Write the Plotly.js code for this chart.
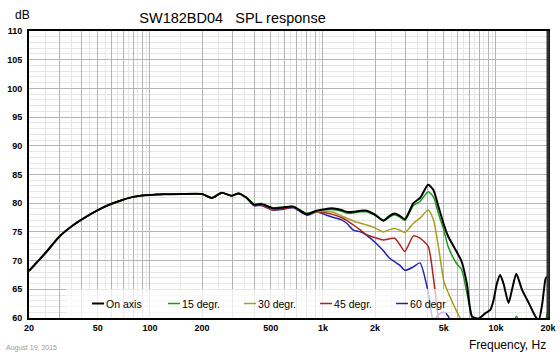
<!DOCTYPE html>
<html><head><meta charset="utf-8">
<script src="https://cdn.plot.ly/plotly-3.0.1.min.js"></script>
<style>html,body{margin:0;padding:0;background:#fff}#chart{width:559px;height:356px}</style>
</head><body><div id="chart"></div>
<script>
// Frequencies (Hz) shared by all series
const freqs = [20,25,30,35,40,50,60,70,80,90,100,120,150,200,228,260,296,325,360,400,440,516,570,674,806,920,1050,1124,1280,1372,1500,1650,1790,2000,2236,2430,2600,2780,2980,3334,3640,4060,4352,4654,5000,5300,5920,6340,6790,7270,7930,8660,9280,9690,10130,10580,11060,11830,12380,13120,14160,15500,16970,17700,18550,19400,20000];

const onAxis = [68.2,71.4,74.2,75.9,77.1,78.8,79.9,80.6,81.1,81.35,81.45,81.55,81.6,81.6,80.9,81.8,81.3,81.7,81.0,79.7,79.85,79.1,79.2,79.4,78.1,78.7,79.0,79.1,78.8,78.5,78.5,78.7,78.7,78.0,77.0,77.8,78.2,77.8,77.2,80.0,80.9,83.2,82.3,79.4,76.3,74.2,71.6,69.8,66.0,60.3,59.9,60.8,61.4,63.1,66.0,67.5,66.0,62.6,64.9,67.7,64.9,62.6,60.2,59.7,62.6,66.9,67.3];

const deg15 = [68.2,71.4,74.2,75.9,77.1,78.8,79.9,80.6,81.1,81.35,81.45,81.55,81.6,81.6,80.9,81.8,81.3,81.7,81.0,79.9,79.95,79.2,79.3,79.4,78.2,78.7,78.9,78.9,78.6,78.3,78.3,78.5,78.5,77.9,76.9,77.6,78.0,77.6,77.0,79.6,80.3,82.0,81.1,78.2,75.3,72.4,69.5,68.4,64.4,60.2,56.5,55,54,54,55,56,56,57,58.5,60.3,58.5,57,56,56,57.5,59.5,61.5];

const deg30 = [68.2,71.4,74.2,75.9,77.1,78.8,79.9,80.6,81.1,81.35,81.45,81.55,81.6,81.6,80.9,81.8,81.3,81.7,81.0,79.7,79.8,79.0,79.2,79.4,78.2,78.5,78.6,78.5,77.8,77.4,76.9,76.5,76.2,75.7,75.0,75.4,75.6,75.3,74.9,76.5,77.4,78.8,77.1,72.4,66.4,64.4,61.2,59.5,57.0];

const deg45 = [68.2,71.4,74.2,75.9,77.1,78.8,79.9,80.6,81.1,81.35,81.45,81.55,81.6,81.6,80.9,81.8,81.3,81.7,81.0,79.6,79.7,78.8,79.0,79.3,78.2,78.5,78.3,78.1,77.5,77.0,76.2,75.3,74.5,74.0,73.6,73.8,73.9,72.8,71.6,74.3,73.9,72.5,67.0,60.0,55.0];

const deg60 = [68.2,71.4,74.2,75.9,77.1,78.8,79.9,80.6,81.1,81.35,81.45,81.55,81.6,81.6,80.9,81.8,81.3,81.7,81.0,79.6,79.6,78.8,78.9,79.2,77.9,78.5,77.9,77.6,77.1,76.5,75.3,75.0,74.4,73.2,71.7,70.4,69.8,69.2,68.3,68.9,69.6,64.5,59.5,60.6,61.0,60.3,56.0];

const seriesNames = ['On axis','15 degr.','30 degr.','45 degr.','60 degr.'];
const seriesColors = ['#000000','#1a9a1a','#a89e1e','#aa2222','#2222aa'];

const xTickVals = [20,30,40,50,60,70,80,90,100,200,300,400,500,600,700,800,900,1000,2000,3000,4000,5000,6000,7000,8000,9000,10000,20000];
const xTickText = ['20','','','50','','','','','100','200','','','500','','','','','1k','2k','','','5k','','','','','10k','20k'];
const xMinorVals = [25,35,45,55,65,75,85,95,150,250,350,450,550,650,750,850,950,1500,2500,3500,4500,5500,6500,7500,8500,9500,15000];
const yTickVals = [60,65,70,75,80,85,90,95,100,105,110];

const allSeries = [onAxis, deg15, deg30, deg45, deg60];
const traces = [];
for (let i = allSeries.length - 1; i >= 0; i--) {
  traces.push({
    type: 'scatter', mode: 'lines',
    x: freqs, y: allSeries[i], name: seriesNames[i],
    legendrank: i + 1,
    line: {color: seriesColors[i], width: i === 0 ? 2 : 1.5, shape: 'spline', smoothing: 0.6},
    hoverinfo: 'skip'
  });
}

const FAM = 'Liberation Sans, Arial, sans-serif';
const tickFont = {family: FAM, size: 9, color: '#000', weight: 'bold'};

const layout = {
  width: 559, height: 356,
  margin: {l: 29, r: 11, t: 31, b: 38},
  paper_bgcolor: '#fff', plot_bgcolor: '#fff',
  font: {family: FAM, size: 10, color: '#000'},
  showlegend: true,
  title: {text: 'SW182BD04   SPL response', x: 0.416, xanchor: 'center', xref: 'container',
          y: 1 - 17.5/356, yanchor: 'middle', yref: 'container',
          font: {family: FAM, size: 14.5, color: '#000'}},
  xaxis: {
    type: 'log', range: [Math.log10(20), Math.log10(20000)],
    tickmode: 'array', tickvals: xTickVals, ticktext: xTickText,
    ticks: '', showgrid: true, gridcolor: '#b4b4b4', gridwidth: 1,
    minor: {tickmode: 'array', tickvals: xMinorVals, showgrid: true, gridcolor: '#e6e6e6', gridwidth: 1, ticks: ''},
    showline: true, linecolor: '#000', linewidth: 2, mirror: true,
    zeroline: false, tickfont: tickFont, fixedrange: true
  },
  yaxis: {
    range: [60, 110], tickmode: 'array', tickvals: yTickVals,
    ticks: '', showgrid: true, gridcolor: '#b4b4b4', gridwidth: 1,
    minor: {dtick: 1, showgrid: true, gridcolor: '#e6e6e6', gridwidth: 1, ticks: ''},
    showline: true, linecolor: '#000', linewidth: 2, mirror: true,
    zeroline: false, tickfont: tickFont, ticklabelstandoff: 3, fixedrange: true
  },
  legend: {
    orientation: 'h', x: 0.0714, xanchor: 'left', y: 0, yanchor: 'bottom',
    bgcolor: 'rgba(255,255,255,0.7)', borderwidth: 0,
    font: {family: FAM, size: 10.5, color: '#000'}, entrywidth: 31, entrywidthmode: 'pixels',
    itemclick: false, itemdoubleclick: false
  },
  shapes: [
    {type: 'line', xref: 'paper', yref: 'paper', x0: 1, x1: 1, y0: 0, y1: 1,
     line: {color: '#333', width: 3}, layer: 'above'}
  ],
  annotations: [
    {text: 'dB', xref: 'paper', yref: 'paper', x: (13-29)/519, y: (318-15)/287, xanchor: 'left', yanchor: 'middle', showarrow: false,
     font: {family: FAM, size: 12, color: '#000'}},
    {text: 'Frequency, Hz', xref: 'paper', yref: 'paper', x: 1, y: (318-345)/287, xanchor: 'right', yanchor: 'middle', showarrow: false,
     font: {family: FAM, size: 12, color: '#000'}},
    {text: 'August 19, 2015', xref: 'paper', yref: 'paper', x: (4-29)/519, y: (318-348)/287, xanchor: 'left', yanchor: 'middle', showarrow: false,
     font: {family: FAM, size: 7, color: '#9a9a9a'}}
  ]
};

Plotly.newPlot('chart', traces, layout, {displayModeBar: false, staticPlot: true}).then(function (gd) {
  // shorten legend line samples to match the reference's short strokes
  gd.querySelectorAll('.legend .legendlines path').forEach(function (p) {
    p.setAttribute('d', 'M26,0h12');
  });
});
</script>
</body></html>
